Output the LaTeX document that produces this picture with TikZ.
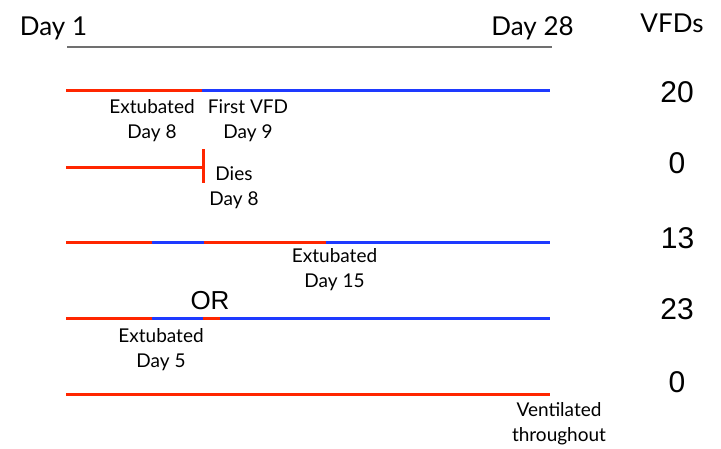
\documentclass[tikz,border=0pt]{standalone}
\usepackage{fontspec}
\setmainfont{Lato}
\newfontfamily\arialf{Liberation Sans}
\definecolor{vred}{RGB}{255,38,0}
\definecolor{vblue}{RGB}{30,58,255}
\definecolor{axisgray}{RGB}{112,112,112}
\begin{document}
\begin{tikzpicture}[x=1pt,y=-1pt,
  seg/.style={line width=3pt},
  vent/.style={seg,draw=vred},
  free/.style={seg,draw=vblue},
  lbl/.style={font=\fontsize{19}{25}\selectfont,align=center,inner sep=0pt,anchor=north},
  hdr/.style={font=\fontsize{26}{30}\selectfont,inner sep=0pt,anchor=base},
  num/.style={font=\arialf\fontsize{30}{34}\selectfont,inner sep=0pt,anchor=base}]
\useasboundingbox (0,0) rectangle (721,448);
% header
\node[hdr] (d1) at (53.5,35) {Day 1};
\node[hdr] (d28) at (532.5,35) {Day 28};
\node[hdr] (vfd) at (672,32) {VFDs};
\coordinate (g0) at (67,47);
\coordinate (g1) at (552,47);
\draw[axisgray,line width=2pt] (g0) -- (g1);
% row 1
\coordinate (a0) at (66,90);
\coordinate (a1) at (202,90);
\coordinate (a2) at (550,90);
\draw[vent] (a0) -- (a1);
\draw[free] (a1) -- (a2);
\node[lbl] (l1a) at (152,99) {Extubated\\Day 8};
\node[lbl] (l1b) at (248,99) {First VFD\\Day 9};
\node[num] (n1) at (677,102) {20};
% row 2
\coordinate (b0) at (66,167);
\coordinate (b1) at (203,167);
\coordinate (b1t) at (203,149);
\coordinate (b1b) at (203,183);
\draw[vent] (b0) -- (b1);
\draw[vent] (b1t) -- (b1b);
\node[lbl] (l2) at (234,166) {Dies\\Day 8};
\node[num] (n2) at (677,173) {0};
% row 3
\coordinate (c0) at (66,242);
\coordinate (c1) at (152,242);
\coordinate (c2) at (204,242);
\coordinate (c3) at (326,242);
\coordinate (c4) at (550,242);
\draw[vent] (c0) -- (c1);
\draw[free] (c1) -- (c2);
\draw[vent] (c2) -- (c3);
\draw[free] (c3) -- (c4);
\node[lbl] (l3) at (334.5,248) {Extubated\\Day 15};
\node[num] (n3) at (677.5,248) {13};
% OR
\node[font=\arialf\fontsize{26}{30}\selectfont,inner sep=0pt,anchor=base] (or) at (210,309) {OR};
% row 4
\coordinate (e0) at (66,318);
\coordinate (e1) at (152,318);
\coordinate (e2) at (203,318);
\coordinate (e3) at (220,318);
\coordinate (e4) at (550,318);
\draw[vent] (e0) -- (e1);
\draw[free] (e1) -- (e2);
\draw[vent] (e2) -- (e3);
\draw[free] (e3) -- (e4);
\node[lbl] (l4) at (161,328) {Extubated\\Day 5};
\node[num] (n4) at (677,319) {23};
% row 5
\coordinate (f0) at (66,394);
\coordinate (f1) at (550,394);
\draw[vent] (f0) -- (f1);
\node[lbl] (l5) at (559,402) {Ventilated\\throughout};
\node[num] (n5) at (677,392) {0};
\end{tikzpicture}
\end{document}
